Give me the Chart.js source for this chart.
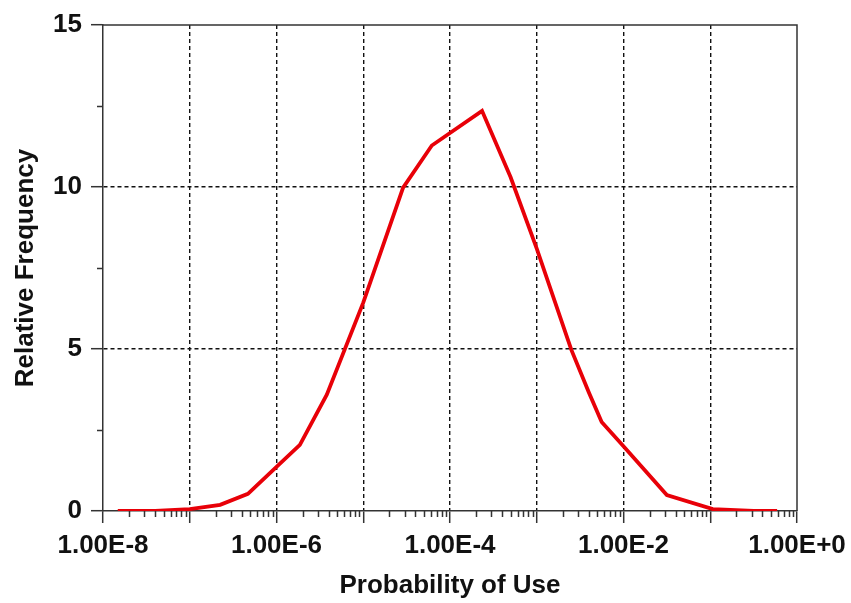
<!DOCTYPE html>
<html>
<head>
<meta charset="utf-8">
<script src="https://cdn.jsdelivr.net/npm/chart.js@4/dist/chart.umd.min.js"></script>
<style>
    html, body { margin: 0; padding: 0; background: #fff; }
    #wrap { width: 851px; height: 603px; position: relative; }
</style>
</head>
<body>
<div id="wrap"><canvas id="freq-chart"></canvas></div>
<script>
// probability of use (x) and relative frequency (y)
const probValues = [1.48e-8, 4.0e-8, 1.0e-7, 2.24e-7, 4.68e-7, 1.0e-6, 1.86e-6, 3.8e-6, 1.0e-5,
    2.88e-5, 6.17e-5, 2.34e-4, 5.0e-4, 1.0e-3, 2.5e-3, 4.0e-3, 5.6e-3, 1.0e-2, 3.16e-2, 1.07e-1, 3.16e-1, 5.9e-1];
const freqValues = [0, 0, 0.06, 0.19, 0.53, 1.36, 2.04, 3.59, 6.43,
    9.98, 11.28, 12.35, 10.3, 8.1, 4.98, 3.65, 2.75, 2.0, 0.49, 0.06, 0, 0];

const xLabelDecades = [-8, -6, -4, -2, 0];
const yLabelTicks = [0, 5, 10, 15];

const FONT = 'Liberation Sans, Arial, sans-serif';
const AXIS_COLOR = '#333';

function isDecade(v) {
    const l = Math.log10(v);
    return Math.abs(l - Math.round(l)) < 1e-6;
}

// top/right frame and the short minor ticks
const minorTicks = {
    id: 'minorTicks',
    beforeDatasetsDraw(chart) {
        const { ctx, chartArea: a, scales: { x, y } } = chart;
        ctx.save();
        ctx.strokeStyle = AXIS_COLOR;
        ctx.lineWidth = 1.5;
        ctx.beginPath();
        ctx.moveTo(a.left, a.top);
        ctx.lineTo(a.right, a.top);
        ctx.lineTo(a.right, a.bottom);
        x.ticks.forEach(t => {
            if (isDecade(t.value)) return;
            const px = Math.round(x.getPixelForValue(t.value)) + 0.5;
            ctx.moveTo(px, a.bottom);
            ctx.lineTo(px, a.bottom + 6);
        });
        y.ticks.forEach(t => {
            if (t.value % 5 === 0) return;
            const py = Math.round(y.getPixelForValue(t.value)) + 0.5;
            ctx.moveTo(a.left - 6, py);
            ctx.lineTo(a.left, py);
        });
        ctx.stroke();
        ctx.restore();
    }
};

const points = probValues.map((p, i) => ({ x: p, y: freqValues[i] }));

new Chart(document.getElementById('freq-chart').getContext('2d'), {
    type: 'line',
    data: {
        datasets: [{
            label: 'Relative Frequency',
            data: points,
            borderColor: 'rgb(232,0,8)',
            borderWidth: 3.8,
            pointRadius: 0,
            tension: 0,
            fill: false
        }]
    },
    options: {
        responsive: true,
        maintainAspectRatio: false,
        animation: false,
        layout: { padding: { left: 0, top: 25, right: 54, bottom: 0 } },
        plugins: {
            legend: { display: false },
            tooltip: { enabled: false }
        },
        scales: {
            x: {
                type: 'logarithmic',
                min: 1e-8,
                max: 1,
                afterBuildTicks: scale => {
                    const ticks = [];
                    for (let e = -8; e <= 0; e++) {
                        for (let m = 1; m <= 9; m++) {
                            const v = m * Math.pow(10, e);
                            if (v <= 1.0000001) ticks.push({ value: v });
                        }
                    }
                    scale.ticks = ticks;
                },
                afterFit: scale => {
                    scale.height = 92;
                    scale.paddingLeft = 0;
                    scale.paddingRight = 0;
                },
                ticks: {
                    autoSkip: false,
                    maxRotation: 0,
                    padding: 7,
                    color: '#111',
                    font: { family: FONT, size: 26, weight: 'bold' },
                    callback: v => {
                        if (!isDecade(v)) return '';
                        const e = Math.round(Math.log10(v));
                        return xLabelDecades.includes(e) ? v.toExponential(2).toUpperCase() : '';
                    }
                },
                grid: {
                    tickLength: 12,
                    color: ctx => {
                        const v = ctx.tick && ctx.tick.value;
                        if (!v || !isDecade(v) || v <= 1e-8 * 1.001 || v >= 0.999) return 'rgba(0,0,0,0)';
                        return '#111';
                    },
                    lineWidth: 1.4,
                    tickColor: ctx => (ctx.tick && isDecade(ctx.tick.value)) ? AXIS_COLOR : 'rgba(0,0,0,0)',
                    tickWidth: 1.5
                },
                border: { color: AXIS_COLOR, width: 1.5, dash: [4, 3] },
                title: {
                    display: true,
                    text: 'Probability of Use',
                    color: '#111',
                    font: { family: FONT, size: 26, weight: 'bold' },
                    padding: { top: 0, bottom: 2 }
                }
            },
            y: {
                min: 0,
                max: 15,
                afterFit: scale => { scale.width = 103; },
                ticks: {
                    stepSize: 2.5,
                    padding: 9,
                    color: '#111',
                    font: { family: FONT, size: 26, weight: 'bold' },
                    callback: v => yLabelTicks.includes(v) ? String(v) : ''
                },
                grid: {
                    tickLength: 12,
                    color: ctx => {
                        const v = ctx.tick && ctx.tick.value;
                        return (v === 5 || v === 10) ? '#111' : 'rgba(0,0,0,0)';
                    },
                    lineWidth: 1.4,
                    tickColor: ctx => (ctx.tick && ctx.tick.value % 5 === 0) ? AXIS_COLOR : 'rgba(0,0,0,0)',
                    tickWidth: 1.5
                },
                border: { color: AXIS_COLOR, width: 1.5, dash: [4, 3] },
                title: {
                    display: true,
                    text: 'Relative Frequency',
                    color: '#111',
                    font: { family: FONT, size: 26, weight: 'bold' },
                    padding: { top: 10, bottom: 0 }
                }
            }
        }
    },
    plugins: [minorTicks]
});
</script>
</body>
</html>
